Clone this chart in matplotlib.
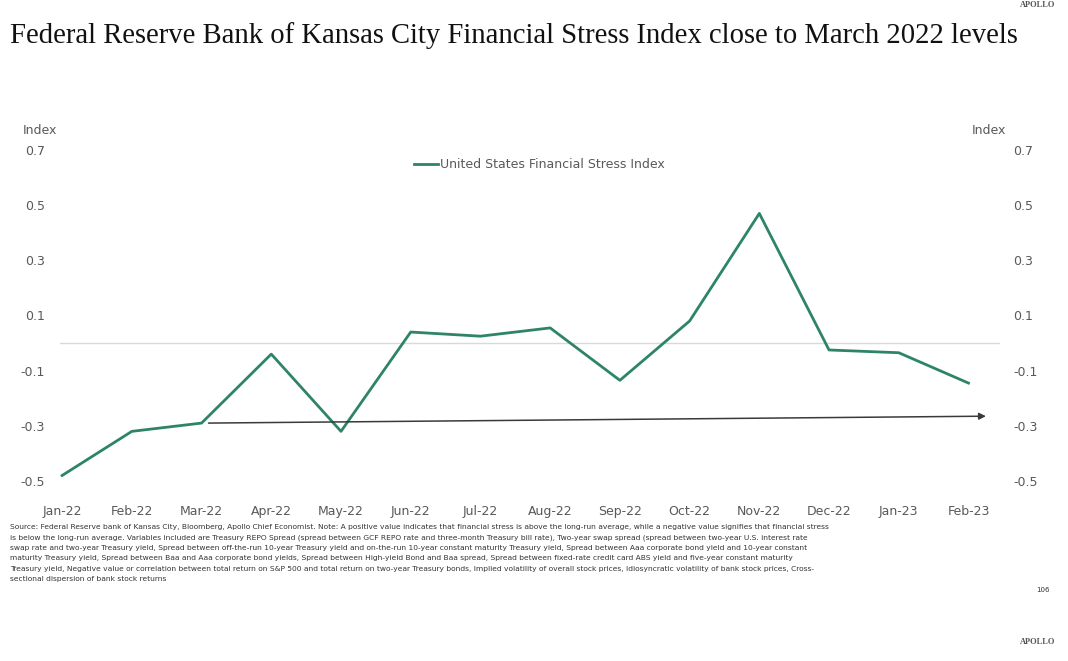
import matplotlib.pyplot as plt

# Data
months = ['Jan-22', 'Feb-22', 'Mar-22', 'Apr-22', 'May-22', 'Jun-22', 'Jul-22',
          'Aug-22', 'Sep-22', 'Oct-22', 'Nov-22', 'Dec-22', 'Jan-23', 'Feb-23']
stress = [-0.48, -0.32, -0.29, -0.04, -0.32, 0.04, 0.025,
          0.055, -0.135, 0.08, 0.47, -0.025, -0.035, -0.145]
yticks = [0.7, 0.5, 0.3, 0.1, -0.1, -0.3, -0.5]

# trend arrow: from March 2022 level to beyond the last point
arrow_start = (2.1, -0.29)
arrow_end = (13.25, -0.265)

footnote_lines = [
    "Source: Federal Reserve bank of Kansas City, Bloomberg, Apollo Chief Economist. Note: A positive value indicates that financial stress is above the long-run average, while a negative value signifies that financial stress",
    "is below the long-run average. Variables included are Treasury REPO Spread (spread between GCF REPO rate and three-month Treasury bill rate), Two-year swap spread (spread between two-year U.S. interest rate",
    "swap rate and two-year Treasury yield, Spread between off-the-run 10-year Treasury yield and on-the-run 10-year constant maturity Treasury yield, Spread between Aaa corporate bond yield and 10-year constant",
    "maturity Treasury yield, Spread between Baa and Aaa corporate bond yields, Spread between High-yield Bond and Baa spread, Spread between fixed-rate credit card ABS yield and five-year constant maturity",
    "Treasury yield, Negative value or correlation between total return on S&P 500 and total return on two-year Treasury bonds, Implied volatility of overall stock prices, Idiosyncratic volatility of bank stock prices, Cross-",
    "sectional dispersion of bank stock returns",
]

green = '#2E8468'
grey_txt = '#595959'

fig = plt.figure(figsize=(10.68, 6.61), dpi=100)
ax = fig.add_axes([0.0562, 0.2723, 0.880, 0.5008])

x = list(range(len(months)))
ax.plot(x, stress, color=green, lw=2, label='United States Financial Stress Index')
ax.axhline(0, color='#d9d9d9', lw=1, zorder=0)
ax.annotate('', xy=arrow_end, xytext=arrow_start,
            arrowprops=dict(arrowstyle='-|>', color='#3a3a3a', lw=1.1,
                            mutation_scale=10, shrinkA=0, shrinkB=0))

ax.set_xlim(-0.03, 13.45)
ax.set_ylim(-0.5, 0.7)
ax.set_yticks(yticks)
ax.set_yticklabels([f'{v:.1f}' for v in yticks])
ax.set_xticks(x)
ax.set_xticklabels(months)
ax.tick_params(axis='x', length=0, pad=17, labelsize=9, colors=grey_txt)
ax.tick_params(axis='y', length=0, pad=11, labelsize=9, colors=grey_txt)

# right-hand axis duplicates the left one
ax2 = ax.twinx()
ax2.set_ylim(ax.get_ylim())
ax2.set_yticks(yticks)
ax2.set_yticklabels([f'{v:.1f}' for v in yticks])
ax2.tick_params(axis='y', length=0, pad=9.5, labelsize=9, colors=grey_txt)
for a in (ax, ax2):
    for s in a.spines.values():
        s.set_visible(False)

leg = ax.legend(loc='upper center', bbox_to_anchor=(0.51, 1.01), frameon=False,
                fontsize=9, handlelength=1.9, handletextpad=0.15)
for t in leg.get_texts():
    t.set_color(grey_txt)

fig.text(0.009, 0.947, 'Federal Reserve Bank of Kansas City Financial Stress Index close to March 2022 levels',
         family='Liberation Serif', fontsize=20.6, color='#111111', va='center')
fig.text(0.021, 0.803, 'Index', fontsize=9, color=grey_txt, va='center')
fig.text(0.910, 0.803, 'Index', fontsize=9, color=grey_txt, va='center')

# footnote, one line every ~10.4 px
for i, line in enumerate(footnote_lines):
    fig.text(0.009, 1 - (527 + 10.4 * i) / 661, line, fontsize=5.4,
             color='#333333', va='center')
fig.text(0.97, 0.108, '106', fontsize=5, color='#333333', va='center')
for yy in (0.993, 0.028):
    fig.text(0.955, yy, 'APOLLO', family='Liberation Serif', fontsize=6,
             fontweight='bold', color='#555555', va='center')

fig.savefig('out.png', dpi=100)
